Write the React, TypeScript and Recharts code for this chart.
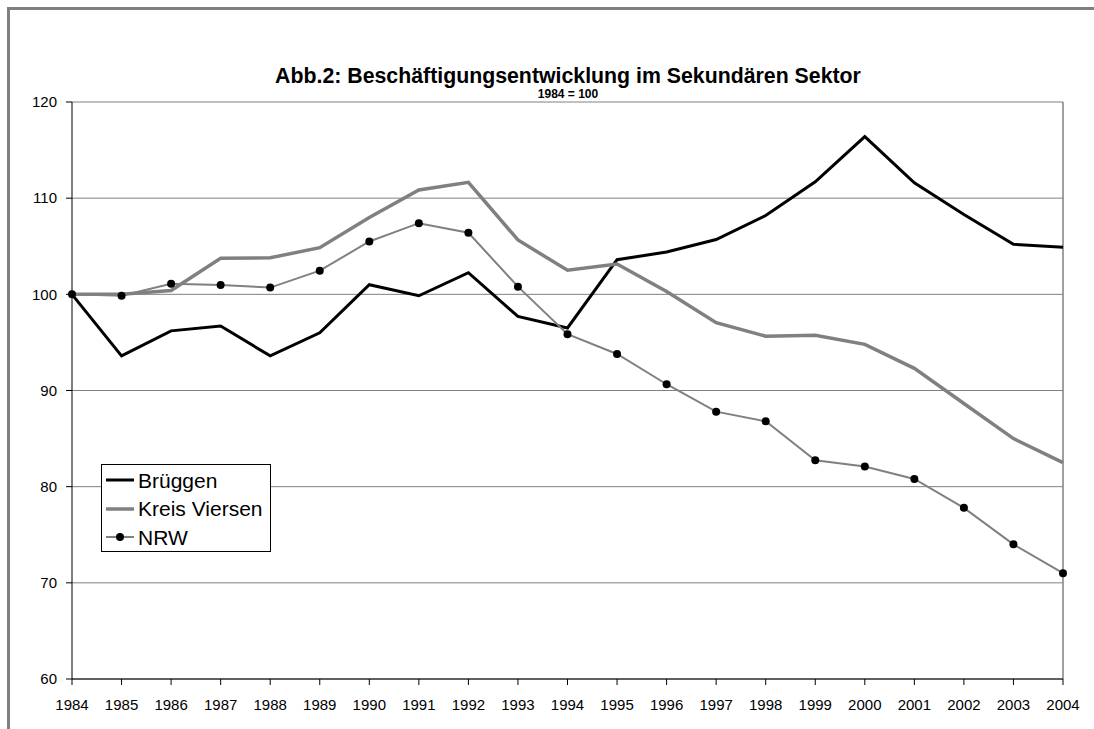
import { LineChart, Line, XAxis, YAxis, CartesianGrid, ReferenceLine } from 'recharts';

const years = ['1984', '1985', '1986', '1987', '1988', '1989', '1990', '1991', '1992', '1993', '1994', '1995', '1996', '1997', '1998', '1999', '2000', '2001', '2002', '2003', '2004'];
const brueggen = [100, 93.6, 96.2, 96.7, 93.6, 96.0, 101.0, 99.85, 102.25, 97.7, 96.5, 103.6, 104.4, 105.7, 108.2, 111.7, 116.4, 111.6, 108.3, 105.2, 104.9];
const kreisViersen = [100, 100.0, 100.4, 103.75, 103.8, 104.85, 108.0, 110.85, 111.65, 105.65, 102.5, 103.15, 100.3, 97.05, 95.65, 95.75, 94.8, 92.3, 88.65, 85.0, 82.5];
const nrw = [100, 99.85, 101.1, 100.97, 100.7, 102.46, 105.5, 107.4, 106.4, 100.8, 95.86, 93.8, 90.65, 87.8, 86.8, 82.75, 82.1, 80.8, 77.8, 74.0, 71.0];
const yTicks = [60, 70, 80, 90, 100, 110, 120];

const data = years.map((year, i) => ({
  year,
  brueggen: brueggen[i],
  kreis: kreisViersen[i],
  nrw: nrw[i],
}));

const font = '"Liberation Sans", Arial, sans-serif';

function LegendBox() {
  const row = (label: string, color: string, width: number, dot: boolean) => (
    <div style={{ display: 'flex', alignItems: 'center', height: 28.5 }}>
      <svg width={34} height={12} style={{ marginRight: 2 }}>
        <line x1={4} y1={6} x2={32} y2={6} stroke={color} strokeWidth={width} />
        {dot && <circle cx={18} cy={6} r={4} fill="#000" />}
      </svg>
      <span>{label}</span>
    </div>
  );
  return (
    <div
      style={{
        position: 'absolute',
        left: 101,
        top: 464,
        width: 170,
        height: 88,
        border: '1px solid #000',
        background: '#fff',
        paddingTop: 1,
        fontFamily: font,
        fontSize: 21,
        lineHeight: '21px',
        color: '#000',
        boxSizing: 'border-box',
      }}
    >
      {row('Brüggen', '#000', 3, false)}
      {row('Kreis Viersen', '#808080', 3.5, false)}
      {row('NRW', '#808080', 2, true)}
    </div>
  );
}

export default function App() {
  return (
    <div style={{ position: 'absolute', left: 0, top: 0, width: 1094, height: 729, background: '#fff', overflow: 'hidden' }}>
      <div
        style={{
          position: 'absolute',
          left: 7,
          top: 7,
          width: 1100,
          height: 740,
          borderLeft: '3px solid #808080',
          borderTop: '3px solid #808080',
        }}
      />
      <div
        style={{
          position: 'absolute',
          left: 0,
          width: 1136,
          top: 66,
          textAlign: 'center',
          fontFamily: font,
          fontWeight: 'bold',
          fontSize: 21.3,
          lineHeight: '21px',
          color: '#000',
        }}
      >
        Abb.2: Beschäftigungsentwicklung im Sekundären Sektor
      </div>
      <div
        style={{
          position: 'absolute',
          left: 0,
          width: 1136,
          top: 88,
          textAlign: 'center',
          fontFamily: font,
          fontWeight: 'bold',
          fontSize: 12,
          lineHeight: '12px',
          color: '#000',
        }}
      >
        1984 = 100
      </div>
      <div style={{ position: 'absolute', left: 0, top: 0 }}>
        <LineChart width={1094} height={729} data={data} margin={{ top: 102, right: 31, left: 12, bottom: 20 }}>
          <CartesianGrid vertical={false} stroke="#808080" strokeWidth={1} />
          <ReferenceLine x="2004" stroke="#808080" strokeWidth={1.5} />
          <XAxis
            dataKey="year"
            height={30}
            stroke="#000"
            tickSize={6}
            tickMargin={14}
            interval={0}
            tick={{ fill: '#000', fontSize: 15, fontFamily: font }}
          />
          <YAxis
            width={60}
            domain={[60, 120]}
            ticks={yTicks}
            stroke="#000"
            tickSize={6}
            tickMargin={9}
            tick={{ fill: '#000', fontSize: 15, fontFamily: font }}
          />
          <Line dataKey="brueggen" name="Brüggen" stroke="#000" strokeWidth={3} dot={false} isAnimationActive={false} />
          <Line dataKey="kreis" name="Kreis Viersen" stroke="#808080" strokeWidth={3.5} dot={false} isAnimationActive={false} />
          <Line
            dataKey="nrw"
            name="NRW"
            stroke="#808080"
            strokeWidth={2}
            dot={{ r: 4, fill: '#000', stroke: '#000', strokeWidth: 0 }}
            isAnimationActive={false}
          />
        </LineChart>
      </div>
      <LegendBox />
    </div>
  );
}
